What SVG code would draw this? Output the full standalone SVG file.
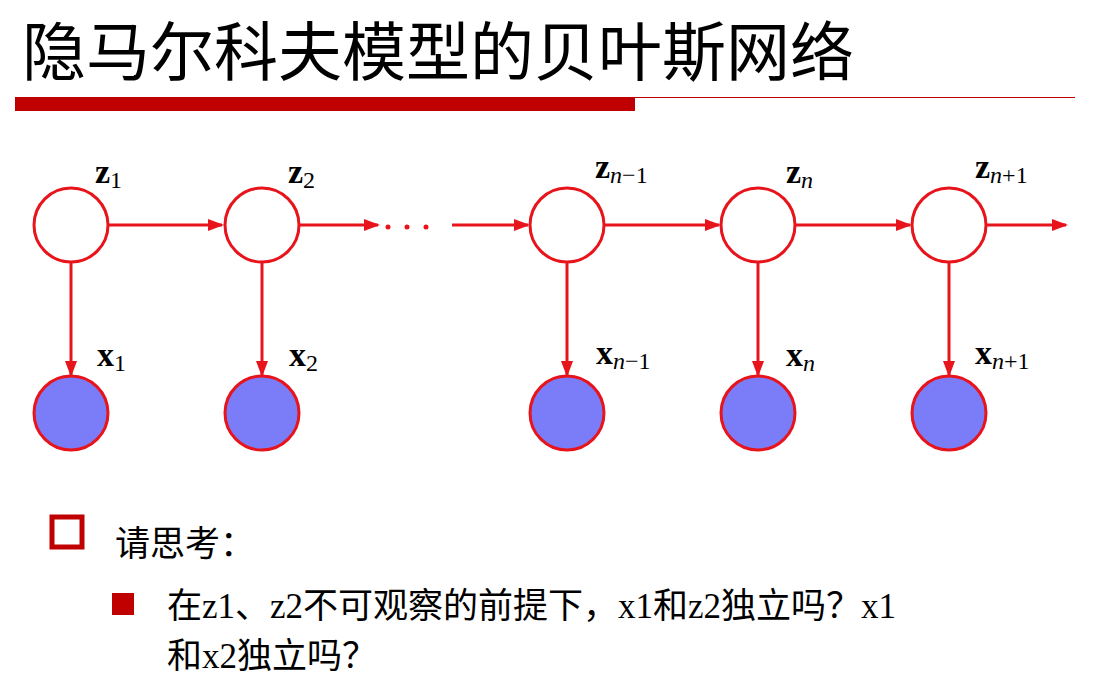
<svg xmlns="http://www.w3.org/2000/svg" width="1103" height="688" viewBox="0 0 1103 688">
<defs>
<marker id="ah" markerWidth="16" markerHeight="12" refX="14" refY="6" orient="auto" markerUnits="userSpaceOnUse"><path d="M0,0 L16,6 L0,12 Z" fill="#e8141c"/></marker>
<style>
.n{stroke:#e8141c;stroke-width:3;fill:#fff}
.o{stroke:#e8141c;stroke-width:3;fill:#7b7cf7}
.e{stroke:#e8141c;stroke-width:3;fill:none}
.l{font-family:"Liberation Serif",serif;font-size:34px;font-weight:bold}
.s{font-weight:normal;font-size:24px}
.t{font-family:"Liberation Serif","Noto Sans CJK SC",serif;font-size:35px}
</style>
</defs>
<rect width="1103" height="688" fill="#fff"/>
<text x="22" y="75" font-family="Noto Sans CJK SC,sans-serif" font-size="64">隐马尔科夫模型的贝叶斯网络</text>
<rect x="15" y="97" width="620" height="14" fill="#c00000"/>
<line x1="635" y1="97.5" x2="1075" y2="97.5" stroke="#c00000" stroke-width="1"/>
<g id="connectors">
<line class="e" x1="108" y1="225" x2="222" y2="225" marker-end="url(#ah)"/>
<line class="e" x1="300" y1="225" x2="378" y2="225" marker-end="url(#ah)"/>
<line x1="388" y1="227" x2="445" y2="227" stroke="#e8141c" stroke-dasharray="0,19" stroke-linecap="round" stroke-width="5"/>
<line class="e" x1="452" y1="225" x2="528" y2="225" marker-end="url(#ah)"/>
<line class="e" x1="605" y1="225" x2="719" y2="225" marker-end="url(#ah)"/>
<line class="e" x1="796" y1="225" x2="910" y2="225" marker-end="url(#ah)"/>
<line class="e" x1="987" y1="225" x2="1066" y2="225" marker-end="url(#ah)"/>
<line class="e" x1="71" y1="262" x2="71" y2="375" marker-end="url(#ah)"/>
<line class="e" x1="262" y1="262" x2="262" y2="375" marker-end="url(#ah)"/>
<line class="e" x1="567" y1="262" x2="567" y2="375" marker-end="url(#ah)"/>
<line class="e" x1="758" y1="262" x2="758" y2="375" marker-end="url(#ah)"/>
<line class="e" x1="949" y1="262" x2="949" y2="375" marker-end="url(#ah)"/>
</g>
<g id="z1"><circle class="n" cx="71" cy="225" r="37"/><text class="l" x="95" y="183">z<tspan class="s" dy="5">1</tspan></text></g>
<g id="z2"><circle class="n" cx="262" cy="225" r="37"/><text class="l" x="288" y="183">z<tspan class="s" dy="5">2</tspan></text></g>
<g id="zn-1"><circle class="n" cx="567" cy="225" r="37"/><text class="l" x="595" y="178">z<tspan class="s" dy="5" font-style="italic">n</tspan><tspan class="s" dy="0">−1</tspan></text></g>
<g id="zn"><circle class="n" cx="758" cy="225" r="37"/><text class="l" x="786" y="183">z<tspan class="s" dy="5" font-style="italic">n</tspan></text></g>
<g id="zn+1"><circle class="n" cx="949" cy="225" r="37"/><text class="l" x="975" y="178">z<tspan class="s" dy="5" font-style="italic">n</tspan><tspan class="s" dy="0">+1</tspan></text></g>
<g id="x1"><circle class="o" cx="71" cy="413" r="37"/><text class="l" x="97" y="366">x<tspan class="s" dy="5">1</tspan></text></g>
<g id="x2"><circle class="o" cx="262" cy="413" r="37"/><text class="l" x="289" y="366">x<tspan class="s" dy="5">2</tspan></text></g>
<g id="xn-1"><circle class="o" cx="567" cy="413" r="37"/><text class="l" x="596" y="364">x<tspan class="s" dy="5" font-style="italic">n</tspan><tspan class="s" dy="0">−1</tspan></text></g>
<g id="xn"><circle class="o" cx="758" cy="413" r="37"/><text class="l" x="786" y="366">x<tspan class="s" dy="5" font-style="italic">n</tspan></text></g>
<g id="xn+1"><circle class="o" cx="949" cy="413" r="37"/><text class="l" x="975" y="364">x<tspan class="s" dy="5" font-style="italic">n</tspan><tspan class="s" dy="0">+1</tspan></text></g>
<rect x="52" y="517" width="30" height="30" fill="none" stroke="#c00000" stroke-width="5"/>
<text class="t" x="115" y="556">请思考：</text>
<rect x="112" y="593" width="22" height="22" fill="#c00000"/>
<text class="t" x="167" y="618">在z1、z2不可观察的前提下，x1和z2独立吗？x1</text>
<text class="t" x="167" y="668">和x2独立吗？</text>
</svg>
